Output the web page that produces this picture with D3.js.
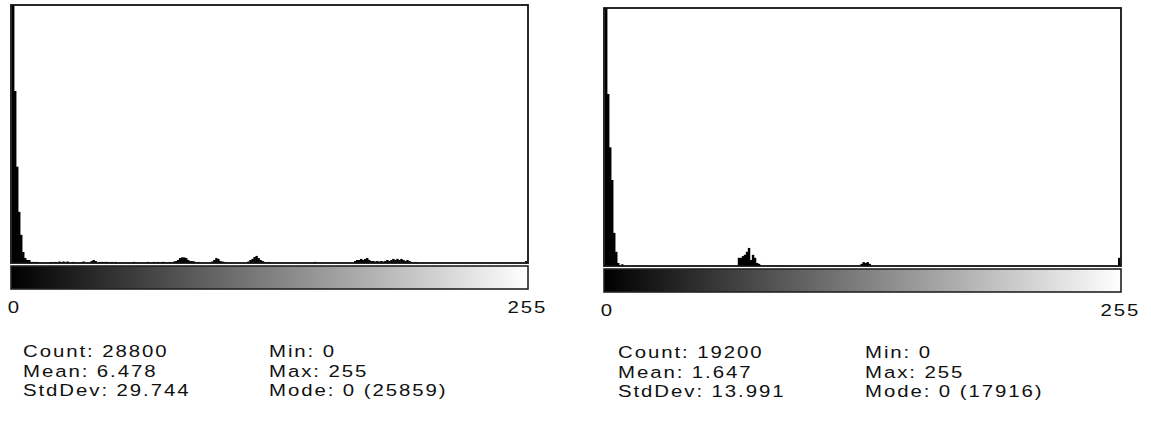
<!DOCTYPE html>
<html>
<head>
<meta charset="utf-8">
<script src="https://cdn.jsdelivr.net/npm/d3@7"></script>
<style>
  body { margin: 0; background: #fff; }
  text { font-family: "Liberation Sans", Arial, sans-serif; font-size: 17px; letter-spacing: 1.6px; fill: #111; }
</style>
</head>
<body>
<div id="chart"></div>
<script>
// Histogram data: [bin, count] for the non-empty bins
const leftHist = [
  [0, 25859], [1, 800], [2, 448], [3, 238], [4, 131], [5, 51], [6, 23], [7, 14], [8, 14],
  [9, 5], [10, 5], [11, 5], [12, 5], [19, 5], [21, 5], [23, 7], [25, 7], [27, 7], [30, 5],
  [35, 7], [39, 9], [40, 14], [41, 9], [43, 5], [44, 5], [45, 5], [46, 5], [47, 5], [49, 5],
  [51, 5], [60, 5], [67, 5], [70, 5], [72, 5], [74, 5], [75, 5], [78, 5], [80, 7],
  [81, 9], [82, 14], [83, 23], [84, 26], [85, 26], [86, 23], [87, 14], [88, 9], [89, 9], [90, 7],
  [92, 5], [99, 7], [100, 14], [101, 23], [102, 19], [103, 9], [104, 7], [105, 5],
  [117, 7], [118, 14], [119, 19], [120, 28], [121, 33], [122, 23], [123, 14], [124, 9], [125, 5],
  [127, 5], [150, 5],
  [170, 9], [171, 14], [172, 14], [173, 19], [174, 14], [175, 19], [176, 23], [177, 14], [178, 9],
  [179, 9], [180, 7], [181, 9], [182, 7], [183, 9], [184, 7],
  [185, 9], [186, 14], [187, 9], [188, 14], [189, 19], [190, 14], [191, 19], [192, 14], [193, 19],
  [194, 14], [195, 9], [196, 14], [197, 9], [198, 5], [200, 5], [255, 9]
];
const rightHist = [
  [0, 17916], [1, 400], [2, 276], [3, 200], [4, 77], [5, 33], [6, 7], [8, 4],
  [66, 19], [67, 19], [68, 23], [69, 26], [70, 33], [71, 42], [72, 14], [73, 26], [74, 19],
  [75, 7], [76, 5],
  [127, 5], [128, 9], [129, 7], [130, 9], [131, 5],
  [255, 19]
];
const axisTicks = [0, 255];
const leftStatsA = ["Count: 28800", "Mean: 6.478", "StdDev: 29.744"];
const leftStatsB = ["Min: 0", "Max: 255", "Mode: 0 (25859)"];
const rightStatsA = ["Count: 19200", "Mean: 1.647", "StdDev: 13.991"];
const rightStatsB = ["Min: 0", "Max: 255", "Mode: 0 (17916)"];

const width = 1151, height = 432;

const svg = d3.select("#chart").append("svg")
  .attr("width", width)
  .attr("height", height);

const defs = svg.append("defs");
const grad = defs.append("linearGradient").attr("id", "lut");
grad.append("stop").attr("offset", "0%").attr("stop-color", "#000");
grad.append("stop").attr("offset", "100%").attr("stop-color", "#fff");

function drawPanel(opt) {
  const g = svg.append("g");
  const x = d3.scaleLinear().domain([0, 256]).range([opt.left + 1, opt.right - 1]);

  // ImageJ style: if the mode is huge, scale to 1.5x the second highest bin
  const sorted = opt.hist.map(d => d[1]).sort((a, b) => b - a);
  const yMax = sorted[0] > 2 * sorted[1] ? sorted[1] * 1.5 : sorted[0];
  const y = d3.scaleLinear().domain([0, yMax]).range([opt.bottom, opt.top]);

  const clipId = "clip" + opt.left;
  defs.append("clipPath").attr("id", clipId)
    .append("rect")
    .attr("x", opt.left).attr("y", opt.top)
    .attr("width", opt.right - opt.left).attr("height", opt.bottom - opt.top);

  g.append("g").attr("clip-path", `url(#${clipId})`)
    .selectAll("rect")
    .data(opt.hist)
    .join("rect")
    .attr("x", d => x(d[0]))
    .attr("width", d => x(d[0] + 1) - x(d[0]) + 0.4)
    .attr("y", d => y(Math.min(d[1], yMax)))
    .attr("height", d => opt.bottom - y(Math.min(d[1], yMax)))
    .attr("fill", "#000");

  // frame
  g.append("rect")
    .attr("x", opt.left).attr("y", opt.top)
    .attr("width", opt.right - opt.left).attr("height", opt.bottom - opt.top)
    .attr("fill", "none").attr("stroke", "#111").attr("stroke-width", 1.8);

  // LUT bar
  g.append("rect")
    .attr("x", opt.left).attr("y", opt.bottom + 3)
    .attr("width", opt.right - opt.left).attr("height", 23)
    .attr("fill", "url(#lut)").attr("stroke", "#222").attr("stroke-width", 1.6);

  // 0 / 255 labels
  const axis = d3.axisBottom(x).tickValues(axisTicks).tickSize(0).tickPadding(0);
  const ax = g.append("g")
    .attr("transform", `translate(2,${opt.bottom + 50})`)
    .call(axis);
  ax.select(".domain").remove();
  ax.selectAll("text")
    .attr("dy", 0)
    .attr("y", 0)
    .attr("transform", "scale(1.2,1)")
    .style("font-family", "'Liberation Sans', Arial, sans-serif")
    .style("font-size", "17px")
    .attr("fill", "#111");

  // stats
  [opt.statsA, opt.statsB].forEach((lines, col) => {
    g.append("g").selectAll("text")
      .data(lines)
      .join("text")
      .attr("transform", (d, i) =>
        `translate(${col === 0 ? opt.textX : opt.textX2},${opt.textY + i * 19.5}) scale(1.2,1)`)
      .text(d => d);
  });
}

drawPanel({
  hist: leftHist, left: 11, right: 528, top: 5, bottom: 263,
  statsA: leftStatsA, statsB: leftStatsB, textX: 23, textX2: 269, textY: 357
});
drawPanel({
  hist: rightHist, left: 604, right: 1121, top: 8, bottom: 266,
  statsA: rightStatsA, statsB: rightStatsB, textX: 618, textX2: 865, textY: 358
});
</script>
</body>
</html>
